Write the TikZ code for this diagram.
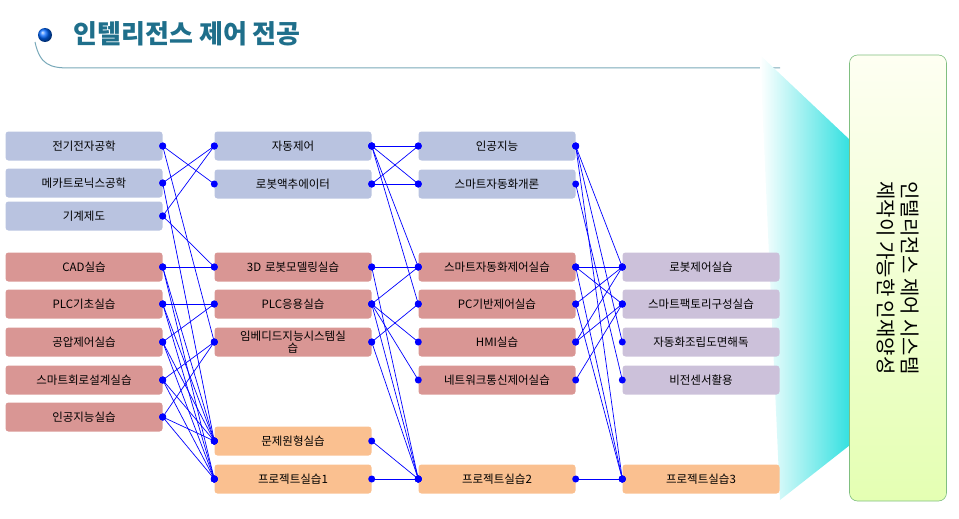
\documentclass[tikz,border=0pt]{standalone}
\usepackage{fontspec}
\setmainfont{Noto Sans CJK KR}
\usetikzlibrary{shadings}
\definecolor{cb}{HTML}{B9C3E0}
\definecolor{cr}{HTML}{D99694}
\definecolor{co}{HTML}{FAC090}
\definecolor{cp}{HTML}{CCC1DA}
\definecolor{tt}{HTML}{1F6F8B}
\tikzset{
 bx/.style={rounded corners=3pt,minimum width=157pt,minimum height=29pt,inner sep=1pt,font=\fontsize{11.5}{12}\selectfont,align=center,text width=150pt},
 ln/.style={blue,line width=0.7pt},
 dt/.style={circle,fill=blue,inner sep=0pt,minimum size=7pt},
}
\begin{document}
\begin{tikzpicture}[x=1pt,y=-1pt]
\useasboundingbox (0,0) rectangle (959,519);
% title
\shade[ball color=blue!60!cyan] (45,35) circle (7);
\node[anchor=west,text=tt,font=\fontsize{26}{28}\selectfont\bfseries] (title) at (70,34) {인텔리전스 제어 전공};
\draw[tt!60,line width=1pt] (35,42) .. controls (40,65) and (50,68) .. (70,68) -- (780,68);
% arrow shape
\shade[left color=white,right color=cyan!70!teal!80] (760,55) -- (850,140) -- (850,445) -- (780,500) -- cycle;
% result box
\node[draw=green!50!black!50,rounded corners=8pt,minimum width=97pt,minimum height=446pt,
 top color=green!8!yellow!5!white,bottom color=green!35!yellow!30,line width=0.6pt] (res) at (898,278) {};
\node[rotate=-90,font=\fontsize{20}{24}\selectfont,align=center] (rt) at (898,278) {인텔리전스 제어 시스템\\제작이 가능한 인재양성};
% columns
\foreach \n/\y/\t/\c in {a1/146/전기전자공학/cb,a2/183/메카트로닉스공학/cb,a3/216/기계제도/cb,a4/267/CAD실습/cr,a5/304/PLC기초실습/cr,a6/342/공압제어실습/cr,a7/380/스마트회로설계실습/cr,a8/417/인공지능실습/cr}
 {\node[bx,fill=\c] (\n) at (84,\y) {\t};}
\foreach \n/\y/\t/\c in {b1/146/자동제어/cb,b2/184/로봇액추에이터/cb,b3/267/3D 로봇모델링실습/cr,b4/304/PLC응용실습/cr,b5/342/임베디드지능시스템실\\습/cr,b6/441/문제원형실습/co,b7/479/프로젝트실습1/co}
 {\node[bx,fill=\c] (\n) at (293,\y) {\t};}
\foreach \n/\y/\t/\c in {d1/146/인공지능/cb,d2/184/스마트자동화개론/cb,d3/267/스마트자동화제어실습/cr,d4/304/PC기반제어실습/cr,d5/342/HMI실습/cr,d6/380/네트워크통신제어실습/cr,d7/479/프로젝트실습2/co}
 {\node[bx,fill=\c] (\n) at (497,\y) {\t};}
\foreach \n/\y/\t/\c in {f1/267/로봇제어실습/cp,f2/304/스마트팩토리구성실습/cp,f3/342/자동화조립도면해독/cp,f4/380/비전센서활용/cp,f5/479/프로젝트실습3/co}
 {\node[bx,fill=\c] (\n) at (701,\y) {\t};}
% edges
\foreach \a/\b in {a1/b2,a1/b5,a2/b1,a2/b6,a3/b1,a3/b3,a4/b3,a4/b6,a4/b7,a5/b4,a5/b6,a5/b7,a6/b4,a6/b6,a6/b7,a7/b5,a7/b6,a7/b7,a8/b5,a8/b6,a8/b7,
 b1/d1,b1/d2,b1/d3,b1/d4,b2/d1,b2/d2,b3/d3,b3/d7,b4/d3,b4/d5,b4/d6,b4/d7,b5/d4,b5/d7,b6/d7,b7/d7,
 d1/f1,d1/f3,d1/f5,d2/f4,d3/f1,d3/f2,d3/f5,d4/f1,d4/f5,d5/f1,d5/f2,d6/f2,d7/f5}
 {\draw[ln] (\a.east) -- (\b.west);
  \node[dt] at (\a.east) {}; \node[dt] at (\b.west) {};}
\end{tikzpicture}
\end{document}
